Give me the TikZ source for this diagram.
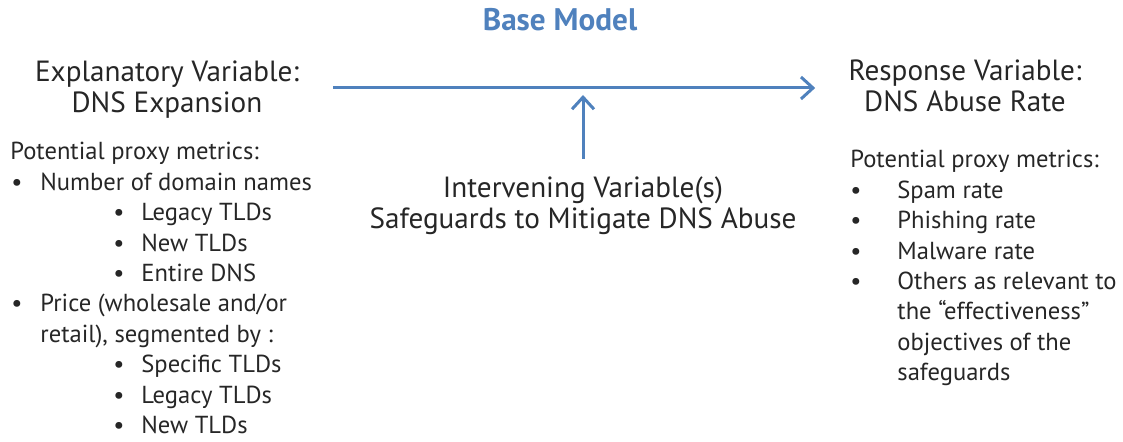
\documentclass[tikz,border=0pt]{standalone}
\usepackage{fontspec}
\setmainfont{PT Sans}
\usetikzlibrary{arrows.meta}

\definecolor{modelblue}{RGB}{79,129,189}
\definecolor{txtgray}{RGB}{38,38,38}

% bullet lines of the two metric lists
\newcommand{\bulA}[1]{\hspace*{0.5pt}\makebox[14.5pt][l]{\textbullet}#1}
\newcommand{\bulB}[1]{\hspace*{51.5pt}\makebox[14pt][l]{\textbullet}#1}
\newcommand{\bulC}[1]{\hspace*{0pt}\makebox[23.5pt][l]{\textbullet}#1}

\begin{document}
\begin{tikzpicture}[
    x=0.5pt, y=-0.5pt,
    txt/.style={inner sep=0pt, text=txtgray, align=center,
                font=\fontsize{14.6}{15.5}\selectfont},
    lst/.style={inner sep=0pt, text=txtgray, align=left, anchor=north west,
                font=\fontsize{12.3}{15.2}\selectfont},
    link/.style={draw=modelblue, line width=1.5pt,
                 -{Straight Barb[length=6pt, width=11pt]}},
]
    \useasboundingbox (0,0) rectangle (1123,442);

    %==================== TITLE ====================
    \node[inner sep=0pt, text=modelblue, font=\bfseries\fontsize{15.6}{18}\selectfont]
        (title) at (560,20) {Base Model};

    %==================== VARIABLES ====================
    \node[txt] (expl) at (167,90) {Explanatory Variable:\\DNS Expansion};
    \node[txt] (resp) at (965,86) {Response Variable:\\DNS Abuse Rate};
    \node[txt] (interv) at (583,206)
        {Intervening Variable(s)\\Safeguards to Mitigate DNS Abuse};

    \coordinate (hit) at (583,88);
    \draw[link] ([xshift=17pt, yshift=1pt]expl.east) -- ([xshift=-16.5pt, yshift=-1pt]resp.west);
    \draw[link] ([yshift=9pt]interv.north) -- ([yshift=-3.5pt]hit);

    %==================== PROXY METRICS ====================
    \node[lst] (explmetrics) at (10,142) {Potential proxy metrics:\\
        \bulA{Number of domain names}\\
        \bulB{Legacy TLDs}\\
        \bulB{New TLDs}\\
        \bulB{Entire DNS}\\
        \bulA{Price (wholesale and/or}\\
        \hspace*{15pt}retail), segmented by :\\
        \bulB{Specific TLDs}\\
        \bulB{Legacy TLDs}\\
        \bulB{New TLDs}};

    \node[lst] (respmetrics) at (850,150) {Potential proxy metrics:\\
        \bulC{Spam rate}\\
        \bulC{Phishing rate}\\
        \bulC{Malware rate}\\
        \bulC{Others as relevant to}\\
        \hspace*{23.5pt}the “effectiveness”\\
        \hspace*{23.5pt}objectives of the\\
        \hspace*{23.5pt}safeguards};

\end{tikzpicture}
\end{document}
